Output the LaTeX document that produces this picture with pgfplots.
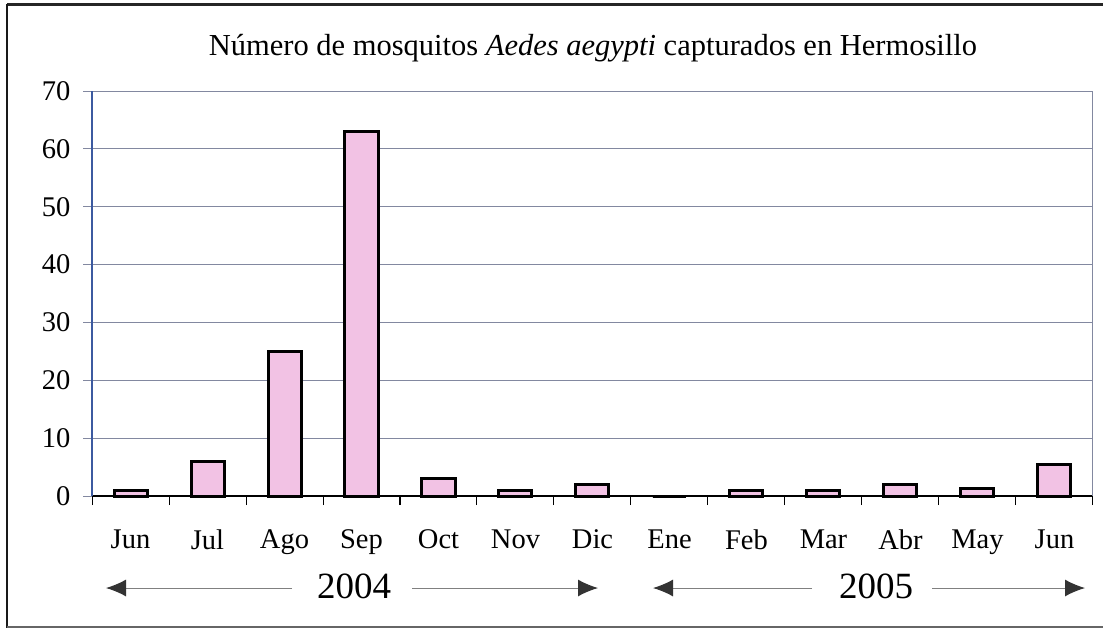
\documentclass[border=0pt]{standalone}
\usepackage{fontspec}
\setmainfont{Liberation Serif}
\usepackage{pgfplots}
\pgfplotsset{compat=1.18}
\usetikzlibrary{arrows.meta}
\definecolor{barpink}{RGB}{242,194,228}
\definecolor{gridc}{RGB}{130,136,160}
\definecolor{yaxc}{RGB}{60,90,160}
\begin{document}
\begin{tikzpicture}
\path[use as bounding box] (0pt,0pt) rectangle (1103pt,-630pt);
% frame
\draw[black!85, line width=3pt] (7pt,-4pt) -- (1103pt,-4pt);
\draw[black!90, line width=2.5pt] (7pt,-4pt) -- (7pt,-628pt);
\draw[black!60, line width=1.5pt] (7pt,-627pt) -- (1103pt,-627pt);
\begin{axis}[
  at={(92pt,-496pt)}, anchor=south west,
  scale only axis, width=1001pt, height=405pt,
  xmin=-0.5, xmax=12.5, ymin=0, ymax=70,
  axis x line*=bottom, axis y line*=left,
  x axis line style={black, line width=1.6pt},
  y axis line style={yaxc, line width=1.2pt},
  ytick={0,10,...,70},
  xtick={-0.5,0.5,...,12.5},
  xticklabels={Jun,Jul,Ago,Sep,Oct,Nov,Dic,Ene,Feb,Mar,Abr,May,Jun,{}},
  tick align=outside, major tick length=9pt,
  xtick style={black, line width=1pt},
  ytick style={gridc, line width=1pt},
  ymajorgrids, grid style={gridc, line width=1pt},
  tick label style={font=\fontsize{28.5}{32}\selectfont},
  /pgf/number format/assume math mode=true,
  xticklabel style={xshift=38.5pt, yshift=-21pt},
  yticklabel style={xshift=-9pt},
  clip=false,
]
\addplot[ybar, bar width=33pt, fill=barpink, draw=black, line width=3pt]
  coordinates {(0,1) (1,6) (2,25) (3,63) (4,3) (5,1) (6,2) (7,0) (8,1) (9,1) (10,2) (11,1.3) (12,5.4)};
\draw[gridc, line width=1pt] (rel axis cs:1,0) -- (rel axis cs:1,1);
\end{axis}
\node[anchor=base, font=\fontsize{30.5}{34}\selectfont] at (593pt,-55pt) {Número de mosquitos \textit{Aedes aegypti} capturados en Hermosillo};
\node[anchor=base, font=\fontsize{37}{40}\selectfont] at (354pt,-598pt) {2004};
\node[anchor=base, font=\fontsize{37}{40}\selectfont] at (876pt,-598pt) {2005};
\tikzset{yarr/.style={gray, line width=1pt, -{Latex[length=20pt,width=17pt,color=black!80]}}}
\draw[yarr] (292pt,-588pt) -- (106pt,-588pt);
\draw[yarr] (412pt,-588pt) -- (598pt,-588pt);
\draw[yarr] (812pt,-588pt) -- (653pt,-588pt);
\draw[yarr] (932pt,-588pt) -- (1085pt,-588pt);
\end{tikzpicture}
\end{document}
